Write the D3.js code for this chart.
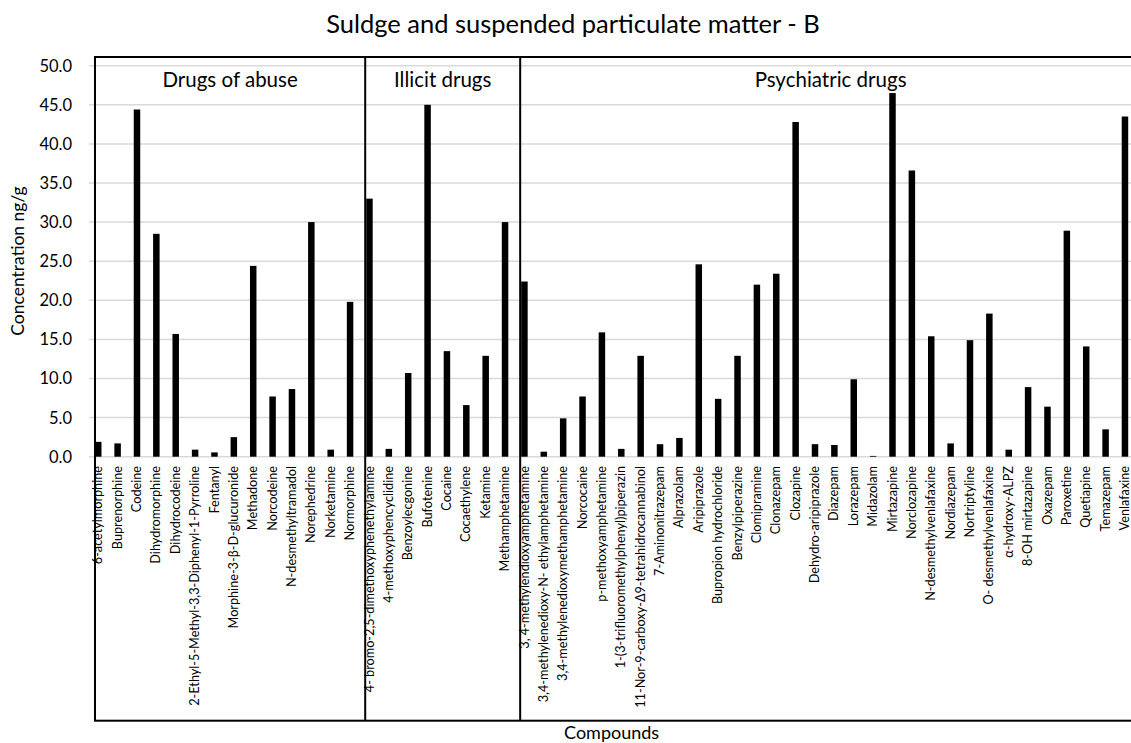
<!DOCTYPE html>
<html>
<head>
<meta charset="utf-8">
<script src="https://cdn.jsdelivr.net/npm/d3@7"></script>
<style>
  html, body { margin: 0; padding: 0; background: #fff; }
  svg { display: block; font-family: Lato, "Open Sans", sans-serif; }
</style>
</head>
<body>
<svg id="chart" width="1131" height="743"></svg>
<script>
const compounds = [
  "6-acetylmorphine", "Buprenorphine", "Codeine", "Dihydromorphine", "Dihydrocodeine",
  "2-Ethyl-5-Methyl-3,3-Diphenyl-1-Pyrroline", "Fentanyl", "Morphine-3-β-D-glucuronide",
  "Methadone", "Norcodeine", "N-desmethyltramadol", "Norephedrine", "Norketamine", "Normorphine",
  "4- bromo-2,5-dimethoxyphenethylamine", "4-methoxyphencyclidine", "Benzoylecgonine", "Bufotenine",
  "Cocaine", "Cocaethylene", "Ketamine", "Methamphetamine",
  "3, 4-methylendioxyamphetamine", "3,4-methylenedioxy-N- ethylamphetamine",
  "3,4-methylenedioxymethamphetamine", "Norcocaine", "p-methoxyamphetamine",
  "1-(3-trifluoromethylphenyl)piperazin", "11-Nor-9-carboxy-Δ9-tetrahidrocannabinol",
  "7-Aminonitrazepam", "Alprazolam", "Aripiprazole", "Bupropion hydrochloride", "Benzylpiperazine",
  "Clomipramine", "Clonazepam", "Clozapine", "Dehydro-aripiprazole", "Diazepam", "Lorazepam",
  "Midazolam", "Mirtazapine", "Norclozapine", "N-desmethylvenlafaxine", "Nordiazepam",
  "Nortriptyline", "O- desmethylvenlafaxine", "α-hydroxy-ALPZ", "8-OH mirtazapine", "Oxazepam",
  "Paroxetine", "Quetiapine", "Temazepam", "Venlafaxine"
];
const concentrations = [
  1.9, 1.7, 44.4, 28.5, 15.7, 0.9, 0.55, 2.5, 24.4, 7.7, 8.65, 30.0, 0.9, 19.8,
  33.0, 1.0, 10.7, 45.0, 13.5, 6.6, 12.9, 30.0,
  22.4, 0.64, 4.9, 7.7, 15.9, 1.0, 12.9, 1.6, 2.4, 24.6, 7.4, 12.9,
  22.0, 23.4, 42.8, 1.6, 1.5, 9.9, 0.1, 46.5, 36.6, 15.4, 1.7, 14.9, 18.3,
  0.9, 8.9, 6.4, 28.9, 14.1, 3.5, 43.5
];
const groupNames = ["Drugs of abuse", "Illicit drugs", "Psychiatric drugs"];
const groupFirst = ["6-acetylmorphine", "4- bromo-2,5-dimethoxyphenethylamine", "3, 4-methylendioxyamphetamine"];
const yTicks = [0, 5, 10, 15, 20, 25, 30, 35, 40, 45, 50];

const svg = d3.select("#chart");
const x = d3.scaleBand().domain(compounds).range([88.6, 1134.6]).paddingInner(0.665).paddingOuter(0.33);
const y = d3.scaleLinear().domain([0, 50]).range([456.7, 65.7]);

// gridlines
svg.append("g").selectAll("line").data(yTicks).join("line")
  .attr("x1", 89).attr("x2", 1131)
  .attr("y1", d => y(d)).attr("y2", d => y(d))
  .attr("stroke", "#d9d9d9").attr("stroke-width", 1.5);

// y tick labels
svg.append("g").selectAll("text").data(yTicks).join("text")
  .attr("x", 72).attr("y", d => y(d)).attr("dy", "0.36em")
  .attr("text-anchor", "end").attr("font-size", 16.5).attr("fill", "#000")
  .text(d => d.toFixed(1));

// bars
svg.append("g").selectAll("rect").data(compounds).join("rect")
  .attr("x", d => x(d)).attr("width", x.bandwidth())
  .attr("y", (d, i) => y(concentrations[i]))
  .attr("height", (d, i) => y(0) - y(concentrations[i]))
  .attr("fill", "#000");

// category labels (font size fitted so the longest label spans ~242px as in the reference)
const labels = svg.append("g").selectAll("text").data(compounds).join("text")
  .attr("transform", d => `translate(${x(d) + x.bandwidth() / 2 - 0.5},466) rotate(-90)`)
  .attr("dy", "0.36em").attr("text-anchor", "end")
  .attr("font-size", 12).attr("fill", "#000")
  .text(d => d);
let maxLen = 0;
labels.each(function () { maxLen = Math.max(maxLen, this.getComputedTextLength()); });
const fitted = Math.min(15, 12 * 242 / maxLen);
labels.attr("font-size", fitted);

// group boxes
const boxTop = 57, boxBottom = 720.7;
const edges = groupFirst.map(g => x(g) - 1);
edges[0] = x(groupFirst[0]);
const rightEdge = 1141;
const bounds = edges.concat([rightEdge]);
const gBox = svg.append("g");
gBox.append("rect")
  .attr("x", bounds[0]).attr("y", boxTop)
  .attr("width", rightEdge - bounds[0]).attr("height", boxBottom - boxTop)
  .attr("fill", "none").attr("stroke", "#000").attr("stroke-width", 2);
gBox.selectAll("line").data(edges.slice(1)).join("line")
  .attr("x1", d => d).attr("x2", d => d)
  .attr("y1", boxTop).attr("y2", boxBottom)
  .attr("stroke", "#000").attr("stroke-width", 2);
gBox.selectAll("text").data(groupNames).join("text")
  .attr("x", (d, i) => (bounds[i] + bounds[i + 1]) / 2)
  .attr("y", 87).attr("text-anchor", "middle")
  .attr("font-size", 20.5).attr("fill", "#000")
  .text(d => d);

// titles
svg.append("text").attr("x", 573).attr("y", 33).attr("text-anchor", "middle")
  .attr("font-size", 25.5).attr("fill", "#000")
  .text("Suldge and suspended particulate matter - B");
svg.append("text")
  .attr("transform", `translate(24,261) rotate(-90)`)
  .attr("text-anchor", "middle").attr("font-size", 17.5).attr("fill", "#000")
  .text("Concentration ng/g");
svg.append("text").attr("x", (88.6 + 1134.6) / 2).attr("y", 739).attr("text-anchor", "middle")
  .attr("font-size", 18).attr("fill", "#000")
  .text("Compounds");
</script>
</body>
</html>
